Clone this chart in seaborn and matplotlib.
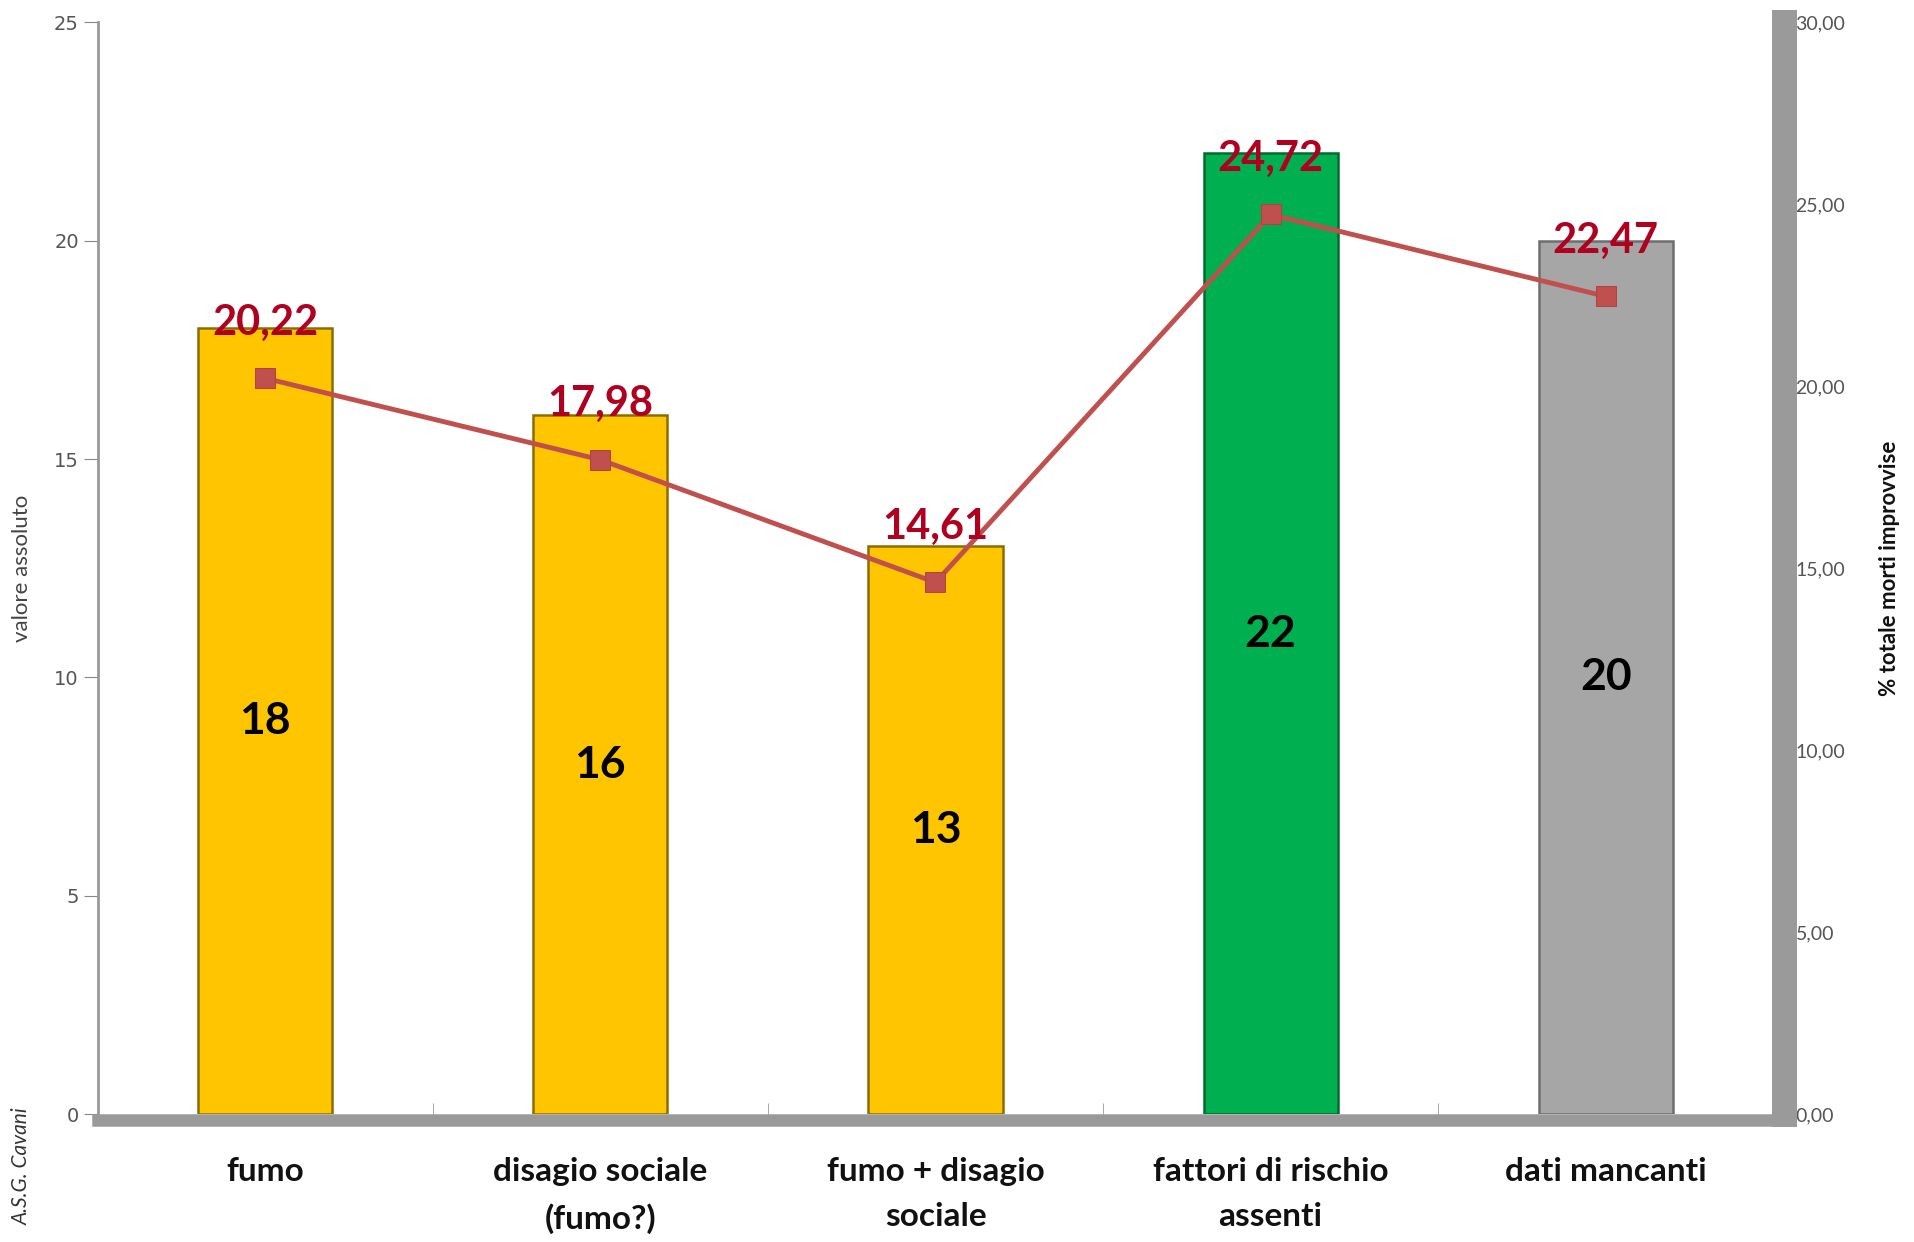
import numpy as np
import pandas as pd
import matplotlib.pyplot as plt
import seaborn as sns
from matplotlib.ticker import FuncFormatter

categories = ['fumo', 'disagio sociale\n(fumo?)', 'fumo + disagio\nsociale',
              'fattori di rischio\nassenti', 'dati mancanti']
counts = [18, 16, 13, 22, 20]
percent = [20.22, 17.98, 14.61, 24.72, 22.47]
bar_colors = ['#FFC600', '#FFC600', '#FFC600', '#00B050', '#A6A6A6']
edge_colors = ['#8a6d00', '#8a6d00', '#8a6d00', '#006b30', '#6e6e6e']

sns.set_style('white')
plt.rcParams['font.family'] = ['Lato', 'DejaVu Sans']

df = pd.DataFrame({'cat': categories, 'n': counts, 'pct': percent})

fig = plt.figure(figsize=(19.15, 12.42), dpi=100)
ax = fig.add_axes([0.051, 0.103, 0.875, 0.879])

sns.barplot(data=df, x='cat', y='n', hue='cat', palette=bar_colors,
            legend=False, width=0.4, ax=ax, saturation=1, linewidth=1.8)
for p, ec in zip(ax.patches, edge_colors):
    p.set_edgecolor(ec)

for i, v in enumerate(counts):
    ax.text(i, v / 2, str(v), ha='center', va='center', fontsize=32,
            fontweight='bold', color='black')

ax2 = ax.twinx()
sns.lineplot(x=np.arange(len(categories)), y=percent, ax=ax2, sort=False,
             color='#C0504D', linewidth=3.5, marker='s', markersize=14,
             markeredgecolor='#B04540')
for i, v in enumerate(percent):
    ax2.annotate(f'{v:.2f}'.replace('.', ','), (i, v), xytext=(0, 40),
                 textcoords='offset points', ha='center', va='center',
                 fontsize=30, fontweight='bold', color='#B00020')

# left axis
ax.set_ylim(0, 25)
ax.set_xlim(-0.5, len(categories) - 0.5)
ax.set_yticks(range(0, 26, 5))
ax.set_xlabel('')
ax.set_ylabel('valore assoluto', fontsize=16, color='#444444')
ax.yaxis.set_label_coords(-0.039, 0.5)
ax.tick_params(axis='y', labelsize=14, labelcolor='#555555', length=10,
               color='#888888', direction='out', left=True)
for lab in ax.get_yticklabels():
    lab.set_family(['DejaVu Sans'])
ax.set_xticks(np.arange(len(categories)), categories)
ax.tick_params(axis='x', length=0, pad=27, labelsize=24, labelcolor='#111111')
ax.set_xticks(np.arange(len(categories) - 1) + 0.5, minor=True)
ax.tick_params(axis='x', which='minor', length=12, color='#999999',
               direction='in', bottom=True)

ax.spines['top'].set_visible(False)
ax.spines['left'].set_color('#999999')
ax.spines['left'].set_linewidth(2)
ax.spines['bottom'].set_color('#9a9a9a')
ax.spines['bottom'].set_linewidth(9)
ax.spines['bottom'].set_position(('outward', 4))

# right axis
ax2.set_ylim(0, 30)
ax2.set_yticks(range(0, 31, 5))
ax2.yaxis.set_major_formatter(FuncFormatter(lambda v, p: f'{v:.2f}'.replace('.', ',')))
ax2.tick_params(axis='y', labelsize=14, labelcolor='#555555', length=0, pad=8)
for lab in ax2.get_yticklabels():
    lab.set_family(['DejaVu Sans'])
ax2.set_ylabel('% totale morti improvvise', fontsize=16, fontweight='bold',
               color='#111111')
ax2.yaxis.set_label_coords(1.063, 0.5)
ax2.spines['right'].set_color('#9a9a9a')
ax2.spines['right'].set_linewidth(18)
ax2.spines['right'].set_position(('outward', 8))
for s in ['top', 'left', 'bottom']:
    ax2.spines[s].set_visible(False)

plt.setp(ax.get_xticklabels(), fontweight='bold', fontsize=24, linespacing=1.65)

fig.text(0.006, 0.061, 'A.S.G. Cavani', rotation=90, fontsize=15,
         style='italic', color='#333333', va='center', ha='left')

fig.savefig('out.png', dpi=100)
